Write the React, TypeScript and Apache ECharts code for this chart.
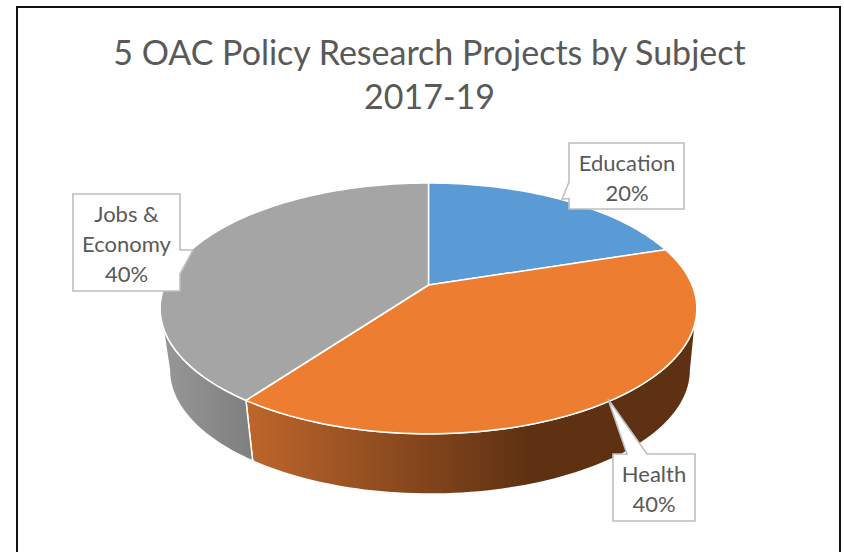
import React, { useEffect, useRef } from "react";
import * as echarts from "echarts";

const titleText = "5 OAC Policy Research Projects by Subject\n2017-19";
const categories = ["Education", "Health", "Jobs & Economy"];
const projectCounts = [1, 2, 2];
const faceColors = ["#5B9BD5", "#ED7D31", "#A5A5A5"];

// Perspective of the pie: disc -> screen
const K = 0.187;
const topDisc = { cx: 428.5, cy: 285, a: 263.6, b: 121 };
const baseDisc = { cx: 430, cy: 347, a: 256, b: 119.6 };

const total = projectCounts.reduce((s, v) => s + v, 0);
const shareLabels = projectCounts.map((v) => `${Math.round((v / total) * 100)}%`);

function project(deg: number, d: typeof topDisc): number[] {
  const r = (deg * Math.PI) / 180;
  const x = Math.sin(r);
  const y = Math.cos(r);
  const w = 1 + K * y;
  return [d.cx + (d.a * x) / w, d.cy - (d.b * y) / w];
}

function arc(from: number, to: number, d: typeof topDisc): number[][] {
  const n = Math.max(2, Math.ceil(Math.abs(to - from) / 1.5));
  const pts: number[][] = [];
  for (let i = 0; i <= n; i++) pts.push(project(from + ((to - from) * i) / n, d));
  return pts;
}

function sliceRange(i: number): number[] {
  let before = 0;
  for (let j = 0; j < i; j++) before += projectCounts[j];
  return [(before / total) * 360, ((before + projectCounts[i]) / total) * 360];
}

const rightEdge = (Math.acos(-K) * 180) / Math.PI;
const leftEdge = 360 - rightEdge;

const wallGradients: Record<number, [number, number, string, string]> = {
  1: [250, 530, "#BD652B", "#5E3112"],
  2: [160, 250, "#989898", "#7F7F7F"],
};

const calloutStyle = { fill: "#FFFFFF", stroke: "#BFBFBF", lineWidth: 1.6 };
const labelStyle = { fontFamily: "Lato", fontSize: 22, fill: "#595959", align: "center", verticalAlign: "middle", lineHeight: 30 };

function callout(points: number[][], x: number, y: number, text: string) {
  return [
    { type: "polygon", z: 20, shape: { points }, style: calloutStyle, silent: true },
    { type: "text", z: 21, x, y, style: { ...labelStyle, text }, silent: true },
  ];
}

export default function App() {
  const ref = useRef<HTMLDivElement>(null);
  useEffect(() => {
    document.body.style.margin = "0";
    const chart = echarts.init(ref.current!, undefined, { renderer: "svg" });
    const data = categories.map((name, i) => ({ name, value: projectCounts[i] }));
    chart.setOption({
      animation: false,
      backgroundColor: "#FFFFFF",
      title: {
        text: titleText,
        left: 424.5,
        top: 24,
        textAlign: "center",
        textStyle: { fontFamily: "Lato", fontSize: 34, fontWeight: "normal", color: "#595959", lineHeight: 44 },
      },
      graphic: [
        { type: "rect", z: 30, shape: { x: 17, y: 7, width: 823, height: 560 }, style: { fill: "none", stroke: "#111111", lineWidth: 2 }, silent: true },
        ...callout([[569, 143], [684, 143], [684, 209], [569, 209], [569, 198.5], [562, 199], [569, 182]], 627, 177, `${categories[0]}\n${shareLabels[0]}`),
        ...callout([[613, 454], [627, 454], [608, 399], [647, 454], [695, 454], [695, 521], [613, 521]], 654, 488, `${categories[1]}\n${shareLabels[1]}`),
        ...callout([[73, 194], [180, 194], [180, 250], [193, 250], [180, 274], [180, 291], [73, 291]], 126.5, 243, `Jobs &\nEconomy\n${shareLabels[2]}`),
      ],
      series: [
        {
          type: "custom",
          coordinateSystem: "none",
          z: 2,
          data,
          renderItem: (params: any) => {
            const i = params.dataIndex;
            const [s, e] = sliceRange(i);
            const from = Math.max(s, rightEdge);
            const to = Math.min(e, leftEdge);
            const g = wallGradients[i];
            if (!g || to <= from) return { type: "group", children: [] };
            const pts = [...arc(from, to, topDisc), ...arc(to, from, baseDisc)];
            return {
              type: "polygon",
              shape: { points: pts },
              style: {
                fill: new echarts.graphic.LinearGradient(g[0], 0, g[1], 0, [
                  { offset: 0, color: g[2] },
                  { offset: 1, color: g[3] },
                ], true),
                stroke: "#FFFFFF",
                lineWidth: 1.5,
              },
            };
          },
        },
        {
          type: "custom",
          coordinateSystem: "none",
          z: 3,
          data,
          renderItem: (params: any) => {
            const i = params.dataIndex;
            const [s, e] = sliceRange(i);
            const pts = [[topDisc.cx, topDisc.cy], ...arc(s, e, topDisc)];
            return {
              type: "polygon",
              shape: { points: pts },
              style: { fill: faceColors[i], stroke: "#FFFFFF", lineWidth: 1.5, lineJoin: "round" },
            };
          },
        },
      ],
    });
    return () => chart.dispose();
  }, []);
  return <div ref={ref} style={{ position: "absolute", left: 0, top: 0, width: 844, height: 552 }} />;
}
